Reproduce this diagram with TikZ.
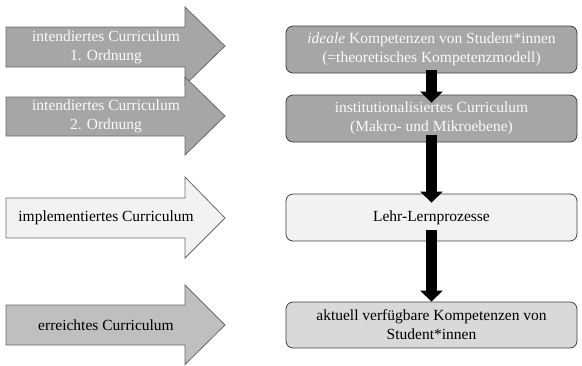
\documentclass[tikz,border=0pt]{standalone}
\usepackage{fontspec}
\setmainfont{Liberation Serif}
\usetikzlibrary{arrows.meta}
\definecolor{darkfill}{HTML}{A6A6A6}
\definecolor{lightfill}{HTML}{F2F2F2}
\definecolor{midfill}{HTML}{BFBFBF}
\definecolor{boxfour}{HTML}{D9D9D9}
\definecolor{arrowline}{HTML}{6A6A6A}
\definecolor{boxline}{HTML}{404040}
\definecolor{whitetext}{HTML}{FAFAFA}
\tikzset{
  blockarrow/.style={draw=arrowline, line width=0.8pt, line join=miter},
  arrowtext/.style={align=center, font=\fontsize{15.5}{19}\selectfont, inner sep=0pt},
  stagebox/.style={draw=boxline, line width=0.8pt, rounded corners=7pt,
    minimum width=291pt, minimum height=47pt, align=center, inner sep=0pt,
    font=\fontsize{15.5}{19}\selectfont},
  conn/.style={line width=10.5pt, draw=black,
    -{Triangle[width=22pt,length=11pt]}}
}
\begin{document}
\begin{tikzpicture}[x=1pt,y=-1pt]
\useasboundingbox (0,0) rectangle (582,365);
% left block arrows
\fill[white] (0,0) rectangle (582,365);
\draw[blockarrow, fill=darkfill] (6,27) -- (185,27) -- (185,7) -- (225,46) -- (185,85) -- (185,67) -- (6,67) -- cycle;
\node[arrowtext, text=whitetext] (a1) at (106,47) {intendiertes Curriculum\\1. Ordnung};
\draw[blockarrow, fill=darkfill] (6,97) -- (185,97) -- (185,77) -- (225,116) -- (185,155) -- (185,136) -- (6,136) -- cycle;
\node[arrowtext, text=whitetext] (a2) at (106,116.5) {intendiertes Curriculum\\2. Ordnung};
\draw[blockarrow, fill=lightfill] (6,198) -- (185,198) -- (185,177) -- (225,218) -- (185,258) -- (185,238) -- (6,238) -- cycle;
\node[arrowtext, text=black] (a3) at (106,218) {implementiertes Curriculum};
\draw[blockarrow, fill=midfill] (6,305) -- (185,305) -- (185,285) -- (225,325) -- (185,364.5) -- (185,345) -- (6,345) -- cycle;
\node[arrowtext, text=black] (a4) at (106,325) {erreichtes Curriculum};
% right boxes
\node[stagebox, fill=darkfill, text=whitetext] (b1) at (431.5,49.5) {\textit{ideale} Kompetenzen von Student*innen\\(=theoretisches Kompetenzmodell)};
\node[stagebox, fill=darkfill, text=whitetext] (b2) at (431.5,118.5) {institutionalisiertes Curriculum\\(Makro- und Mikroebene)};
\node[stagebox, fill=lightfill, text=black] (b3) at (431.5,217.5) {Lehr-Lernprozesse};
\node[stagebox, fill=boxfour, text=black, minimum height=46pt] (b4) at (431.5,325) {aktuell verfügbare Kompetenzen von\\Student*innen};
% connectors
\draw[conn, shorten <=-3pt, shorten >=-8pt] (b1.south) -- (b2.north);
\draw[conn, shorten <=-7pt, shorten >=-9pt] (b2.south) -- (b3.north);
\draw[conn, shorten <=-11pt, shorten >=0pt] (b3.south) -- (b4.north);
\end{tikzpicture}
\end{document}
